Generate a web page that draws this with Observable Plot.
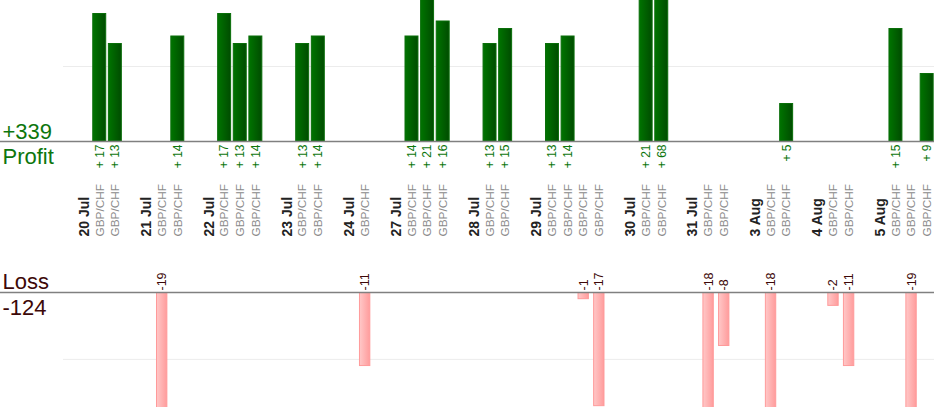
<!DOCTYPE html>
<html>
<head>
<meta charset="utf-8">
<script src="https://cdn.jsdelivr.net/npm/d3@7"></script>
<script src="https://cdn.jsdelivr.net/npm/@observablehq/plot@0.6"></script>
<style>
  html, body { margin: 0; padding: 0; background: #fff; }
  #chart svg { display: block; }
</style>
</head>
<body>
<div id="chart"></div>
<script>
// ---- data ----
const dates = ["20 Jul","21 Jul","22 Jul","23 Jul","24 Jul","27 Jul","28 Jul","29 Jul","30 Jul","31 Jul","3 Aug","4 Aug","5 Aug"];
const tradeDay = [
  "20 Jul","20 Jul",
  "21 Jul","21 Jul",
  "22 Jul","22 Jul","22 Jul",
  "23 Jul","23 Jul",
  "24 Jul",
  "27 Jul","27 Jul","27 Jul",
  "28 Jul","28 Jul",
  "29 Jul","29 Jul","29 Jul","29 Jul",
  "30 Jul","30 Jul",
  "31 Jul","31 Jul",
  "3 Aug","3 Aug",
  "4 Aug","4 Aug",
  "5 Aug","5 Aug","5 Aug"
];
const tradePair = tradeDay.map(() => "GBP/CHF");
const tradeResult = [
  17, 13,
  -19, 14,
  17, 13, 14,
  13, 14,
  -11,
  14, 21, 16,
  13, 15,
  13, 14, -1, -17,
  21, 68,
  -18, -8,
  -18, 5,
  -2, -11,
  15, -19, 9
];

// ---- build slot table (date column, trade columns, blank separator) ----
const dateRows = [];
const tradeRows = [];
let k = 0;
dates.forEach((d, i) => {
  if (i > 0) k++; // blank separator
  dateRows.push({slot: k, label: d});
  k++;
  tradeDay.forEach((td, j) => {
    if (td === d) {
      tradeRows.push({slot: k, pair: tradePair[j], value: tradeResult[j]});
      k++;
    }
  });
});
const nSlots = k;
const profits = tradeRows.filter(r => r.value > 0);
const losses = tradeRows.filter(r => r.value < 0);
const totalProfit = d3.sum(profits, r => r.value);
const totalLoss = d3.sum(losses, r => r.value);

const FONT = "'Liberation Sans', Arial, sans-serif";
const W = 934;
const xScale = {type: "band", domain: d3.range(nSlots), range: [74.5, 935.8], padding: 0.17, axis: null};
const GREEN = "#0d760d";
const BROWN = "#3d0808";

function defs(html) {
  return () => {
    const g = document.createElementNS("http://www.w3.org/2000/svg", "defs");
    g.innerHTML = html;
    return g;
  };
}

const profitPlot = Plot.plot({
  width: W, height: 260,
  marginTop: 0, marginBottom: 119, marginLeft: 0, marginRight: 0,
  style: {fontFamily: FONT, background: "#fff"},
  x: xScale,
  y: {domain: [0, 18.8], axis: null},
  marks: [
    defs(`<linearGradient id="gGreen" x1="0" x2="1" y1="0" y2="0">
            <stop offset="0" stop-color="#007400"/>
            <stop offset="1" stop-color="#004c00"/>
          </linearGradient>`),
    Plot.ruleY([10], {stroke: "#ececec", insetLeft: 63}),
    Plot.barY(profits, {x: "slot", y: "value", fill: "url(#gGreen)", stroke: "#0a6e0a", strokeWidth: 1, clip: true}),
    Plot.ruleY([0], {stroke: "#808080", strokeWidth: 1.3}),
    Plot.text(profits, {x: "slot", y: () => 0, text: d => "+ " + d.value, rotate: -90, textAnchor: "end", lineAnchor: "middle", dy: 3, fontSize: 12, fill: GREEN}),
    Plot.text(dateRows, {x: "slot", frameAnchor: "bottom", text: "label", rotate: -90, textAnchor: "start", lineAnchor: "middle", dy: 95, fontSize: 14, fontWeight: "bold", fill: "#222"}),
    Plot.text(tradeRows, {x: "slot", frameAnchor: "bottom", text: "pair", rotate: -90, textAnchor: "start", lineAnchor: "middle", dy: 95, fontSize: 11.8, fill: "#8a8a8a"}),
    Plot.text([`+${totalProfit}`], {frameAnchor: "bottom-left", dx: 2, dy: -3, textAnchor: "start", lineAnchor: "bottom", fontSize: 22, fill: GREEN}),
    Plot.text(["Profit"], {frameAnchor: "bottom-left", dx: 2, dy: 22, textAnchor: "start", lineAnchor: "bottom", fontSize: 22, fill: GREEN})
  ]
});

const lossPlot = Plot.plot({
  width: W, height: 160,
  marginTop: 32, marginBottom: 13, marginLeft: 0, marginRight: 0,
  style: {fontFamily: FONT, background: "#fff"},
  x: xScale,
  y: {domain: [0, -17.2], range: [32, 147], axis: null},
  marks: [
    defs(`<linearGradient id="gPink" x1="0" x2="1" y1="0" y2="0">
            <stop offset="0" stop-color="#ffc8c8"/>
            <stop offset="1" stop-color="#ff9c9c"/>
          </linearGradient>`),
    Plot.ruleY([-10], {stroke: "#ececec", insetLeft: 63}),
    Plot.barY(losses, {x: "slot", y: "value", fill: "url(#gPink)", stroke: "#ff9a9a", strokeWidth: 1, insetLeft: 1.3, insetRight: 1.3, clip: true}),
    Plot.ruleY([0], {stroke: "#808080", strokeWidth: 1.3}),
    Plot.text(losses, {x: "slot", y: () => 0, text: d => "-" + Math.abs(d.value), rotate: -90, textAnchor: "start", lineAnchor: "middle", dy: -2, fontSize: 12.5, fill: BROWN}),
    Plot.text(["Loss"], {frameAnchor: "top-left", dx: 2, dy: -4, textAnchor: "start", lineAnchor: "bottom", fontSize: 22, fill: BROWN}),
    Plot.text([`${totalLoss}`], {frameAnchor: "top-left", dx: 2, dy: 22, textAnchor: "start", lineAnchor: "bottom", fontSize: 22, fill: BROWN})
  ]
});

const root = document.getElementById("chart");
root.appendChild(profitPlot);
root.appendChild(lossPlot);
</script>
</body>
</html>
